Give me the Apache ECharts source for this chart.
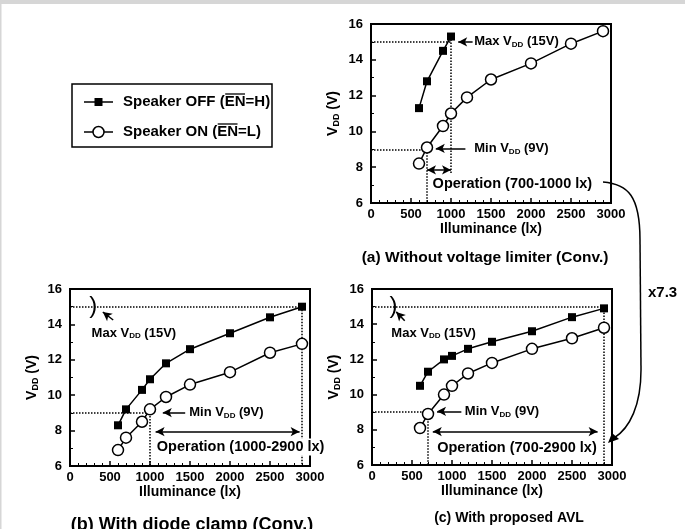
<!DOCTYPE html>
<html>
<head>
<meta charset="utf-8">
<script src="https://cdn.jsdelivr.net/npm/echarts@6/dist/echarts.min.js"></script>
<style>
html, body { margin: 0; padding: 0; background: #fff; }
#chart { width: 685px; height: 529px; }
</style>
</head>
<body>
<div id="chart"></div>
<script>
// illuminance points (lx)
const luxA_off = [600, 700, 900, 1000]
const luxAll = [600, 700, 900, 1000, 1200, 1500, 2000, 2500, 2900]

// VDD (V)
const vddA_off = [11.3, 12.8, 14.5, 15.3]
const vddA_on = [8.2, 9.1, 10.3, 11.0, 11.9, 12.9, 13.8, 14.9, 15.6]
const vddB_off = [8.3, 9.2, 10.3, 10.9, 11.8, 12.6, 13.5, 14.4, 15.0]
const vddB_on = [6.9, 7.6, 8.5, 9.2, 9.9, 10.6, 11.3, 12.4, 12.9]
const vddC_off = [10.5, 11.3, 12.0, 12.2, 12.6, 13.0, 13.6, 14.4, 14.9]
const vddC_on = [8.1, 8.9, 10.0, 10.5, 11.2, 11.8, 12.6, 13.2, 13.8]

const captions = [
    '(a) Without voltage limiter (Conv.)',
    '(b) With diode clamp (Conv.)',
    '(c) With proposed AVL'
]

const F = '"Liberation Sans", Arial, Helvetica, sans-serif'
const subStyle = { fontFamily: F, fontWeight: 'bold', fontSize: 8, color: '#000', padding: [6, 0, 0, 0] }

function pairs(xs, ys) {
    return xs.map(function (x, k) { return [x, ys[k]] })
}

function xAx(i) {
    return {
        gridIndex: i, type: 'value', min: 0, max: 3000, interval: 500,
        name: 'Illuminance (lx)', nameLocation: 'middle', nameGap: 19,
        nameTextStyle: { fontFamily: F, fontWeight: 'bold', fontSize: 14, color: '#000' },
        axisLine: { show: true, onZero: false, lineStyle: { color: '#000', width: 2 } },
        axisTick: { show: true, inside: true, length: 5, lineStyle: { color: '#000', width: 1.5 } },
        minorTick: { show: true, splitNumber: 5, length: 3, lineStyle: { color: '#000', width: 1 } },
        splitLine: { show: false },
        axisLabel: {
            fontFamily: F, fontWeight: 'bold', fontSize: 13, color: '#000', margin: 5,
            formatter: function (v) { return String(v) }
        }
    }
}

function yAx(i) {
    return {
        gridIndex: i, type: 'value', min: 6, max: 16, interval: 2,
        name: '{a|V}{s|DD}{a| (V)}', nameLocation: 'middle', nameGap: 30, nameRotate: 90,
        nameTextStyle: {
            rich: {
                a: { fontFamily: F, fontWeight: 'bold', fontSize: 14, color: '#000' },
                s: { fontFamily: F, fontWeight: 'bold', fontSize: 9, color: '#000', padding: [6, 0, 0, 0] }
            }
        },
        axisLine: { show: true, onZero: false, lineStyle: { color: '#000', width: 2 } },
        axisTick: { show: true, inside: true, length: 5, lineStyle: { color: '#000', width: 1.5 } },
        minorTick: { show: true, splitNumber: 2, length: 3, lineStyle: { color: '#000', width: 1 } },
        splitLine: { show: false },
        axisLabel: { fontFamily: F, fontWeight: 'bold', fontSize: 13, color: '#000', margin: 8 }
    }
}

function offSeries(i, xs, ys) {
    return {
        type: 'line', xAxisIndex: i, yAxisIndex: i, data: pairs(xs, ys),
        symbol: 'rect', symbolSize: 8, animation: false, z: 6,
        lineStyle: { color: '#000', width: 1.5 },
        itemStyle: { color: '#000' }
    }
}

function onSeries(i, xs, ys) {
    return {
        type: 'line', xAxisIndex: i, yAxisIndex: i, data: pairs(xs, ys),
        symbol: 'circle', symbolSize: 11, animation: false, z: 6,
        lineStyle: { color: '#000', width: 1.5 },
        itemStyle: { color: '#fff', borderColor: '#000', borderWidth: 1.5 }
    }
}

function dotted(x1, y1, x2, y2) {
    return [
        { coord: [x1, y1], symbol: 'none', lineStyle: { type: [1.5, 1.5], width: 1.5, color: '#000' } },
        { coord: [x2, y2], symbol: 'none' }
    ]
}

function arrow(x1, y1, x2, y2, both) {
    return [
        { coord: [x1, y1], symbol: both ? 'arrow' : 'none', lineStyle: { type: 'solid', width: 1.5, color: '#000' } },
        { coord: [x2, y2], symbol: 'arrow' }
    ]
}

function note(x, y, text, size, bg) {
    var r = {
        a: { fontFamily: F, fontWeight: 'bold', fontSize: size || 13, color: '#000' },
        s: subStyle
    }
    return {
        coord: [x, y], symbol: 'rect', symbolSize: 0,
        label: {
            show: true, position: 'right', distance: 0, formatter: text, rich: r,
            backgroundColor: bg ? '#fff' : 'transparent', padding: bg ? [1, 2] : 0
        }
    }
}

function bracket(x, y) {
    return {
        coord: [x, y], symbol: 'rect', symbolSize: 0,
        label: { show: true, position: 'inside', formatter: ')', fontFamily: F, fontSize: 24, color: '#000' }
    }
}

function annSeries(i, lines, notes) {
    return {
        type: 'line', xAxisIndex: i, yAxisIndex: i, data: [], animation: false, z: 2,
        markLine: { silent: true, animation: false, z: 2, symbolSize: [7, 9], label: { show: false }, data: lines },
        markPoint: { silent: true, animation: false, z: 8, data: notes }
    }
}

var maxTxt = '{a|Max V}{s|DD}{a| (15V)}'
var minTxt = '{a|Min V}{s|DD}{a| (9V)}'

var annA = annSeries(0, [
    dotted(0, 15, 1000, 15), dotted(1000, 15.3, 1000, 7.6),
    dotted(0, 9, 700, 9), dotted(700, 9, 700, 6),
    arrow(700, 7.85, 1000, 7.85, true),
    arrow(1270, 15, 1090, 15), arrow(1180, 9.05, 810, 9.05)
], [
    note(1290, 15, maxTxt), note(1290, 9.05, minTxt),
    note(745, 7.05, '{a|Operation (700-1000 lx)}', 14.5, true)
])

var annB = annSeries(1, [
    dotted(0, 15, 2900, 15), dotted(2900, 15, 2900, 6),
    dotted(0, 9, 1000, 9), dotted(1000, 9, 1000, 6),
    arrow(1070, 7.94, 2870, 7.94, true),
    arrow(1440, 9.02, 1160, 9.02), arrow(540, 14.25, 410, 14.7)
], [
    note(1490, 9.02, minTxt), note(270, 13.5, maxTxt),
    note(1060, 7.08, '{a|Operation (1000-2900 lx)}', 14.5, true),
    bracket(290, 15)
])

var annC = annSeries(2, [
    dotted(0, 15, 2900, 15), dotted(2900, 15, 2900, 6),
    dotted(0, 9, 700, 9), dotted(700, 9, 700, 6),
    arrow(760, 7.9, 2820, 7.9, true),
    arrow(1117, 9.05, 813, 9.05), arrow(409, 14.2, 303, 14.7)
], [
    note(1160, 9.05, minTxt), note(242, 13.5, maxTxt),
    note(790, 6.97, '{a|Operation (700-2900 lx)}', 14.5, true),
    bracket(270, 15)
])

// legend with overline over "EN"
var ctx = document.createElement('canvas').getContext('2d')
ctx.font = 'bold 15px "Liberation Sans"'
function overline(pre, y) {
    var x0 = 123 + ctx.measureText(pre).width
    var w = ctx.measureText('EN').width
    return { type: 'line', shape: { x1: x0 + 0.5, y1: y - 8, x2: x0 + w - 0.5, y2: y - 8 }, style: { stroke: '#000', lineWidth: 1.3 } }
}

var legendItems = [
    { type: 'rect', shape: { x: 72, y: 84, width: 200, height: 63 }, style: { fill: 'none', stroke: '#000', lineWidth: 1.5 } },
    { type: 'line', shape: { x1: 84, y1: 102, x2: 113, y2: 102 }, style: { stroke: '#000', lineWidth: 1.5 } },
    { type: 'rect', shape: { x: 94.5, y: 98, width: 8, height: 8 }, style: { fill: '#000' } },
    { type: 'text', x: 123, y: 102, style: { text: 'Speaker OFF (EN=H)', font: 'bold 15px ' + F, fill: '#000', verticalAlign: 'middle' } },
    overline('Speaker OFF (', 102),
    { type: 'line', shape: { x1: 84, y1: 132, x2: 113, y2: 132 }, style: { stroke: '#000', lineWidth: 1.5 } },
    { type: 'circle', shape: { cx: 98.5, cy: 132, r: 5.5 }, style: { fill: '#fff', stroke: '#000', lineWidth: 1.5 } },
    { type: 'text', x: 123, y: 132, style: { text: 'Speaker ON (EN=L)', font: 'bold 15px ' + F, fill: '#000', verticalAlign: 'middle' } },
    overline('Speaker ON (', 132)
]

var arrowItems = [
    { type: 'bezierCurve', shape: { x1: 603, y1: 182, cpx1: 628, cpy1: 184, cpx2: 640, cpy2: 196, x2: 640, y2: 240 }, style: { fill: 'none', stroke: '#000', lineWidth: 1.5 } },
    { type: 'line', shape: { x1: 640, y1: 240, x2: 641, y2: 370 }, style: { stroke: '#000', lineWidth: 1.5 } },
    { type: 'bezierCurve', shape: { x1: 641, y1: 370, cpx1: 641, cpy1: 405, cpx2: 630, cpy2: 428, x2: 614, y2: 438 }, style: { fill: 'none', stroke: '#000', lineWidth: 1.5 } },
    { type: 'polygon', shape: { points: [[608, 443], [612, 433], [619, 439]] }, style: { fill: '#000' } },
    { type: 'text', x: 648, y: 293, style: { text: 'x7.3', font: 'bold 15px ' + F, fill: '#000', verticalAlign: 'middle' } }
]

// light grey frame at the top and left edges of the picture
var frameItems = [
    { type: 'rect', shape: { x: 0, y: 0, width: 685, height: 4 }, style: { fill: '#d6d6d6' } },
    { type: 'rect', shape: { x: 0, y: 0, width: 1.5, height: 529 }, style: { fill: '#d6d6d6' } }
]

var option = {
    backgroundColor: '#fff',
    animation: false,
    grid: [
        { left: 371, top: 24, width: 240, height: 179, show: true, borderColor: '#000', borderWidth: 2 },
        { left: 70, top: 289, width: 240, height: 177, show: true, borderColor: '#000', borderWidth: 2 },
        { left: 372, top: 289, width: 240, height: 176, show: true, borderColor: '#000', borderWidth: 2 }
    ],
    xAxis: [xAx(0), xAx(1), xAx(2)],
    yAxis: [yAx(0), yAx(1), yAx(2)],
    title: [
        { text: captions[0], left: 485, top: 250, textAlign: 'center', padding: 0, textStyle: { fontFamily: F, fontWeight: 'bold', fontSize: 15.5, color: '#000' } },
        { text: captions[1], left: 192, top: 516, textAlign: 'center', padding: 0, textStyle: { fontFamily: F, fontWeight: 'bold', fontSize: 18, color: '#000' } },
        { text: captions[2], left: 509, top: 511, textAlign: 'center', padding: 0, textStyle: { fontFamily: F, fontWeight: 'bold', fontSize: 14, color: '#000' } }
    ],
    graphic: frameItems.concat(legendItems, arrowItems),
    series: [
        annA, offSeries(0, luxA_off, vddA_off), onSeries(0, luxAll, vddA_on),
        annB, offSeries(1, luxAll, vddB_off), onSeries(1, luxAll, vddB_on),
        annC, offSeries(2, luxAll, vddC_off), onSeries(2, luxAll, vddC_on)
    ]
}

var myChart = echarts.init(document.getElementById('chart'))
option && myChart.setOption(option)
</script>
</body>
</html>
